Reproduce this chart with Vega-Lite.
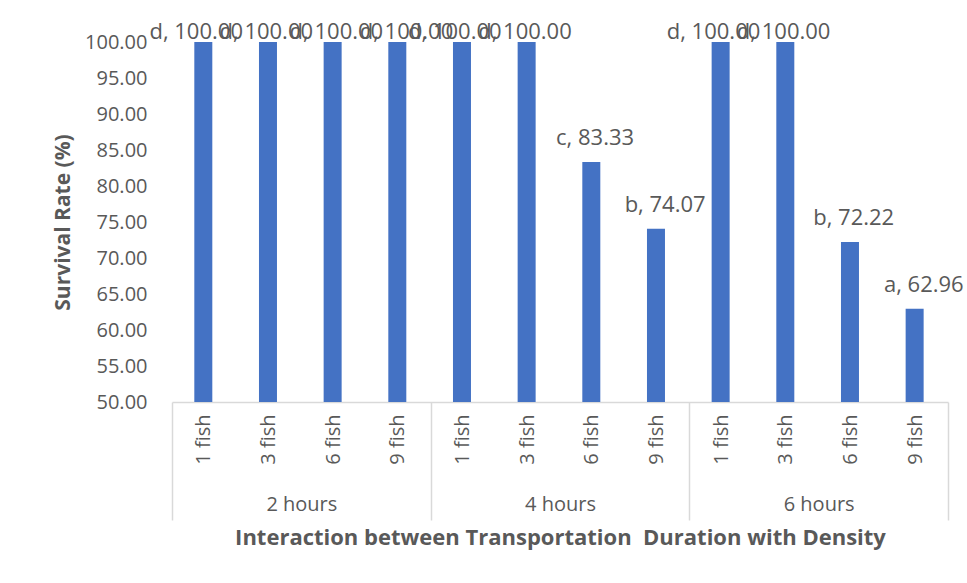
{
  "$schema": "https://vega.github.io/schema/vega-lite/v6.json",
  "width": 776,
  "height": 360,
  "autosize": {"type": "none"},
  "padding": {"left": 172, "top": 42, "right": 19, "bottom": 181},
  "background": "white",
  "config": {
    "font": "Open Sans",
    "view": {"stroke": null},
    "axis": {"labelColor": "#595959", "titleColor": "#595959", "labelFont": "Open Sans", "titleFont": "Open Sans", "labelOverlap": false}
  },
  "data": {
    "values": [
      {"slot": "2 hours / 1 fish", "hours": "2 hours", "fish": "1 fish", "letter": "d", "survival": 100},
      {"slot": "2 hours / 3 fish", "hours": "2 hours", "fish": "3 fish", "letter": "d", "survival": 100},
      {"slot": "2 hours / 6 fish", "hours": "2 hours", "fish": "6 fish", "letter": "d", "survival": 100},
      {"slot": "2 hours / 9 fish", "hours": "2 hours", "fish": "9 fish", "letter": "d", "survival": 100},
      {"slot": "4 hours / 1 fish", "hours": "4 hours", "fish": "1 fish", "letter": "d", "survival": 100},
      {"slot": "4 hours / 3 fish", "hours": "4 hours", "fish": "3 fish", "letter": "d", "survival": 100},
      {"slot": "4 hours / 6 fish", "hours": "4 hours", "fish": "6 fish", "letter": "c", "survival": 83.33},
      {"slot": "4 hours / 9 fish", "hours": "4 hours", "fish": "9 fish", "letter": "b", "survival": 74.07},
      {"slot": "6 hours / 1 fish", "hours": "6 hours", "fish": "1 fish", "letter": "d", "survival": 100},
      {"slot": "6 hours / 3 fish", "hours": "6 hours", "fish": "3 fish", "letter": "d", "survival": 100},
      {"slot": "6 hours / 6 fish", "hours": "6 hours", "fish": "6 fish", "letter": "b", "survival": 72.22},
      {"slot": "6 hours / 9 fish", "hours": "6 hours", "fish": "9 fish", "letter": "a", "survival": 62.96}
    ]
  },
  "transform": [
    {"calculate": "datum.letter + ', ' + format(datum.survival, '.2f')", "as": "label"}
  ],
  "layer": [
    {
      "mark": {"type": "bar", "color": "#4472C4"},
      "encoding": {
        "x": {
          "field": "slot", "type": "nominal", "sort": null,
          "scale": {"paddingInner": 0.69, "paddingOuter": 0.345},
          "axis": {
            "orient": "bottom", "title": null,
            "labelExpr": "split(datum.value, ' / ')[1]",
            "labelAngle": 270, "labelFontSize": 20, "labelPadding": 12,
            "ticks": false, "domain": false
          }
        },
        "y": {
          "field": "survival", "type": "quantitative",
          "scale": {"domain": [50, 100], "zero": false, "nice": false},
          "axis": {
            "title": "Survival Rate (%)",
            "values": [50, 55, 60, 65, 70, 75, 80, 85, 90, 95, 100],
            "format": ".2f", "labelFontSize": 20, "labelOverlap": false,
            "titleFontSize": 21, "titleFontWeight": "bold",
            "grid": false, "domain": false, "ticks": false,
            "labelPadding": 25, "titlePadding": 11
          }
        },
        "y2": {"datum": 50}
      }
    },
    {
      "encoding": {
        "x": {
          "field": "hours", "type": "nominal",
          "scale": {"domain": ["2 hours", "4 hours", "6 hours"], "paddingInner": 0, "paddingOuter": 0},
          "axis": {
            "orient": "bottom",
            "title": "Interaction between Transportation\u00a0 Duration with Density",
            "titleFontSize": 22, "titleFontWeight": "bold", "titlePadding": 7,
            "tickBand": "extent", "tickSize": 118, "tickColor": "#d9d9d9", "tickWidth": 1.5,
            "domainColor": "#d9d9d9", "domainWidth": 1.5,
            "labelFontSize": 20, "labelAngle": 0, "labelPadding": -26
          }
        },
        "xOffset": {
          "field": "fish", "type": "nominal",
          "scale": {"domain": ["1 fish", "3 fish", "6 fish", "9 fish"], "paddingInner": 0.69, "paddingOuter": 0.345}
        },
        "y": {
          "field": "survival", "type": "quantitative",
          "axis": {
            "title": "Survival Rate (%)",
            "values": [50, 55, 60, 65, 70, 75, 80, 85, 90, 95, 100],
            "format": ".2f", "labelFontSize": 20, "labelOverlap": false,
            "titleFontSize": 21, "titleFontWeight": "bold",
            "grid": false, "domain": false, "ticks": false,
            "labelPadding": 25, "titlePadding": 11
          }
        },
        "text": {"field": "label"}
      },
      "layer": [
        {
          "transform": [{"filter": "datum.survival < 100"}],
          "mark": {"type": "text", "fontSize": 22, "dy": -17, "baseline": "alphabetic", "color": "#595959"}
        },
        {
          "transform": [{"filter": "datum.survival >= 100"}],
          "mark": {"type": "text", "fontSize": 22, "dy": -3, "baseline": "alphabetic", "color": "#595959"}
        }
      ]
    }
  ],
  "resolve": {"scale": {"x": "independent"}, "axis": {"x": "independent"}}
}
